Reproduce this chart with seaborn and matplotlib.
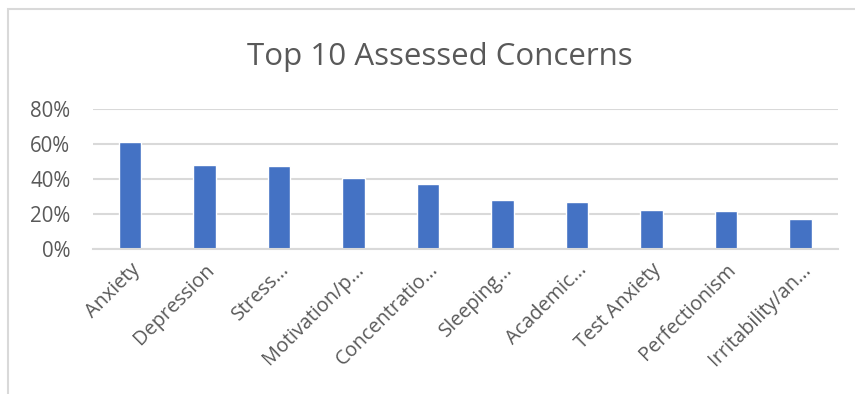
import matplotlib
matplotlib.use("Agg")
import matplotlib.pyplot as plt
import seaborn as sns
import pandas as pd
from matplotlib.ticker import PercentFormatter
from matplotlib.patches import Rectangle

categories = ["Anxiety", "Depression", "Stress...", "Motivation/p...", "Concentratio...",
              "Sleeping...", "Academic...", "Test Anxiety", "Perfectionism", "Irritability/an..."]
values = [0.613, 0.481, 0.474, 0.407, 0.369, 0.279, 0.266, 0.222, 0.214, 0.170]
yticks = [0, 0.2, 0.4, 0.6, 0.8]
title = "Top 10 Assessed Concerns"

sns.set_theme(style="white")
plt.rcParams["font.family"] = ["Open Sans", "DejaVu Sans"]

df = pd.DataFrame({"cat": categories, "val": values})

fig = plt.figure(figsize=(8.55, 3.94), dpi=100)
ax = fig.add_axes([0.1084, 0.3688, 0.8716, 0.3546])
sns.barplot(data=df, x="cat", y="val", color="#4472C4", width=0.30, saturation=1, ax=ax)

ax.set_ylim(0, 0.8)
ax.set_yticks(yticks)
ax.yaxis.set_major_formatter(PercentFormatter(1.0, decimals=0))
ax.grid(axis="y", color="#D9D9D9", linewidth=1.5)
ax.set_axisbelow(True)
for s in ["top", "right", "left"]:
    ax.spines[s].set_visible(False)
ax.spines["bottom"].set_color("#D9D9D9")
ax.spines["bottom"].set_linewidth(1.5)
ax.set_xlabel("")
ax.set_ylabel("")
ax.tick_params(axis="y", length=0, pad=16, labelsize=14.8, labelcolor="#595959")
ax.tick_params(axis="x", length=0, pad=8, labelsize=14.3, labelcolor="#595959")
for lab in ax.get_xticklabels():
    lab.set_rotation(45)
    lab.set_ha("right")
    lab.set_rotation_mode("anchor")

fig.text(0.5146, 0.835, title, ha="center", va="baseline", fontsize=22.5, color="#595959")

border = Rectangle((8 / 855, -0.05), 1.0, 1 - 9 / 394 + 0.05, transform=fig.transFigure,
                   fill=False, edgecolor="#D9D9D9", linewidth=1.5)
fig.patches.append(border)

fig.savefig("out.png", dpi=100)
